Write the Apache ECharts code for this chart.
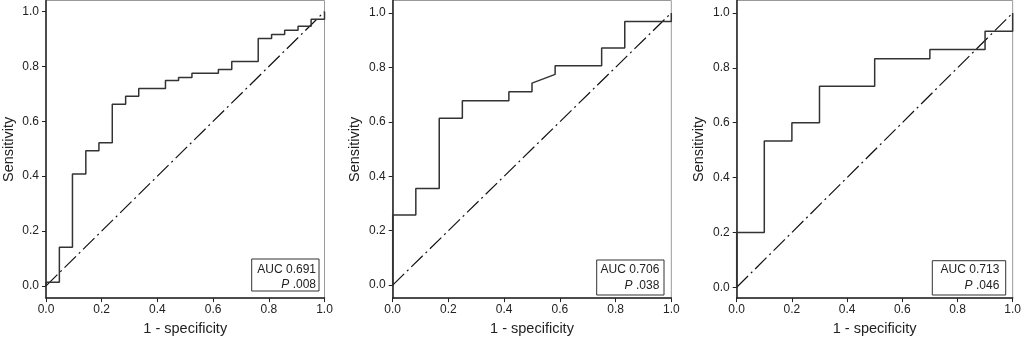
<!DOCTYPE html>
<html><head><meta charset="utf-8">
<script src="https://cdn.jsdelivr.net/npm/echarts@6/dist/echarts.min.js"></script>
<style>html,body{margin:0;padding:0;background:#fff}#c{width:1024px;height:341px}</style>
</head><body><div id="c"></div>
<script>
// ---- data ----
const tickValues = [0, 0.2, 0.4, 0.6, 0.8, 1.0];
const xTitle = '1 - specificity';
const yTitle = 'Sensitivity';
const refX = [0, 1];
const refY = [0, 1];

const fpr1 = [0, 0, 0.048, 0.048, 0.095, 0.095, 0.143, 0.143, 0.190, 0.190, 0.238, 0.238, 0.286, 0.286, 0.333, 0.333, 0.429, 0.429, 0.476, 0.476, 0.524, 0.524, 0.619, 0.619, 0.667, 0.667, 0.762, 0.762, 0.810, 0.810, 0.857, 0.857, 0.905, 0.905, 0.952, 0.952, 1, 1];
const tpr1 = [0, 0.013, 0.013, 0.141, 0.141, 0.408, 0.408, 0.493, 0.493, 0.522, 0.522, 0.662, 0.662, 0.691, 0.691, 0.720, 0.720, 0.749, 0.749, 0.760, 0.760, 0.775, 0.775, 0.789, 0.789, 0.818, 0.818, 0.902, 0.902, 0.917, 0.917, 0.932, 0.932, 0.947, 0.947, 0.972, 0.972, 1];

const fpr2 = [0, 0, 0.083, 0.083, 0.167, 0.167, 0.250, 0.250, 0.417, 0.417, 0.500, 0.500, 0.583, 0.583, 0.750, 0.750, 0.833, 0.833, 1, 1];
const tpr2 = [0, 0.258, 0.258, 0.355, 0.355, 0.613, 0.613, 0.677, 0.677, 0.710, 0.710, 0.742, 0.774, 0.806, 0.806, 0.871, 0.871, 0.968, 0.968, 1];

const fpr3 = [0, 0, 0.1, 0.1, 0.2, 0.2, 0.3, 0.3, 0.5, 0.5, 0.7, 0.7, 0.9, 0.9, 1, 1];
const tpr3 = [0, 0.200, 0.200, 0.533, 0.533, 0.600, 0.600, 0.733, 0.733, 0.833, 0.833, 0.867, 0.867, 0.933, 0.933, 1];

const aucLabels = ['0.691', '0.706', '0.713'];
const pLabels = ['.008', '.038', '.046'];

// ---- layout ----
const panels = [
  {fpr: fpr1, tpr: tpr1, grid: {left: 46, right: 699.5, top: 0.5, bottom: 39.3}, yMin: -0.0446, yMax: 1.0406,
   box: {x: 251.7, y: 259, w: 67.3, h: 32, tx: 64.3, l1: 11, l2: 25.7}},
  {fpr: fpr2, tpr: tpr2, grid: {left: 392.7, right: 352.7, top: 0.5, bottom: 36}, yMin: -0.0477, yMax: 1.0455,
   box: {x: 596.7, y: 260, w: 67.3, h: 35, tx: 62.6, l1: 10, l2: 25.5}},
  {fpr: fpr3, tpr: tpr3, grid: {left: 736.7, right: 9, top: 0.5, bottom: 38.3}, yMin: -0.0394, yMax: 1.0455,
   box: {x: 932.3, y: 260.7, w: 73.4, h: 34.3, tx: 67, l1: 9.3, l2: 24.8}}
];

const FONT = "'Liberation Sans', Arial, sans-serif";
const TXT = '#222';
const zip = (a, b) => a.map((v, i) => [v, b[i]]);
const fmt = v => (Math.round(v * 10) / 10).toFixed(1);

const option = {
  animation: false,
  backgroundColor: '#fff',
  grid: panels.map(p => Object.assign({show: true, borderColor: '#999', borderWidth: 1, containLabel: false}, p.grid)),
  xAxis: panels.map((p, i) => ({
    type: 'value', gridIndex: i, min: 0, max: 1,
    name: xTitle, nameLocation: 'middle', nameGap: 20,
    nameTextStyle: {fontFamily: FONT, fontSize: 14.5, color: TXT},
    axisLine: {show: true, onZero: false, lineStyle: {color: '#222', width: 1.5}},
    axisTick: {show: true, inside: false, length: 4, customValues: tickValues, lineStyle: {color: '#222', width: 1}},
    axisLabel: {show: true, margin: 6, customValues: tickValues, formatter: fmt, fontFamily: FONT, fontSize: 12, color: TXT},
    splitLine: {show: false}
  })),
  yAxis: panels.map((p, i) => ({
    type: 'value', gridIndex: i, min: p.yMin, max: p.yMax,
    name: yTitle, nameLocation: 'middle', nameGap: 30,
    nameTextStyle: {fontFamily: FONT, fontSize: 14.5, color: TXT},
    axisLine: {show: true, onZero: false, lineStyle: {color: '#222', width: 1.5}},
    axisTick: {show: true, inside: false, length: 4, customValues: tickValues, lineStyle: {color: '#222', width: 1}},
    axisLabel: {show: true, margin: 7, customValues: tickValues, formatter: fmt, fontFamily: FONT, fontSize: 12, color: TXT},
    splitLine: {show: false}
  })),
  series: [].concat(...panels.map((p, i) => [
    {type: 'line', xAxisIndex: i, yAxisIndex: i, data: zip(refX, refY), symbol: 'none', silent: true,
     lineStyle: {color: '#111', width: 1.2, type: [16, 4, 2, 4]}},
    {type: 'line', xAxisIndex: i, yAxisIndex: i, data: zip(p.fpr, p.tpr), symbol: 'none', silent: true,
     lineStyle: {color: '#333', width: 1.5}}
  ])),
  graphic: panels.map((p, i) => ({
    type: 'group', x: p.box.x, y: p.box.y, z: 100,
    children: [
      {type: 'rect', shape: {x: 0, y: 0, width: p.box.w, height: p.box.h},
       style: {fill: '#fff', stroke: '#333', lineWidth: 1}},
      {type: 'text', x: p.box.tx, y: p.box.l1,
       style: {text: 'AUC ' + aucLabels[i], align: 'right', verticalAlign: 'middle', font: '12px ' + FONT, fill: TXT}},
      {type: 'text', x: p.box.tx, y: p.box.l2,
       style: {text: '{i|P} ' + pLabels[i], align: 'right', verticalAlign: 'middle', font: '12px ' + FONT, fill: TXT,
               rich: {i: {fontStyle: 'italic', fontFamily: FONT, fontSize: 12, fill: TXT}}}}
    ]
  }))
};

const chart = echarts.init(document.getElementById('c'), null, {renderer: 'canvas'});
chart.setOption(option);
</script>
</body></html>
